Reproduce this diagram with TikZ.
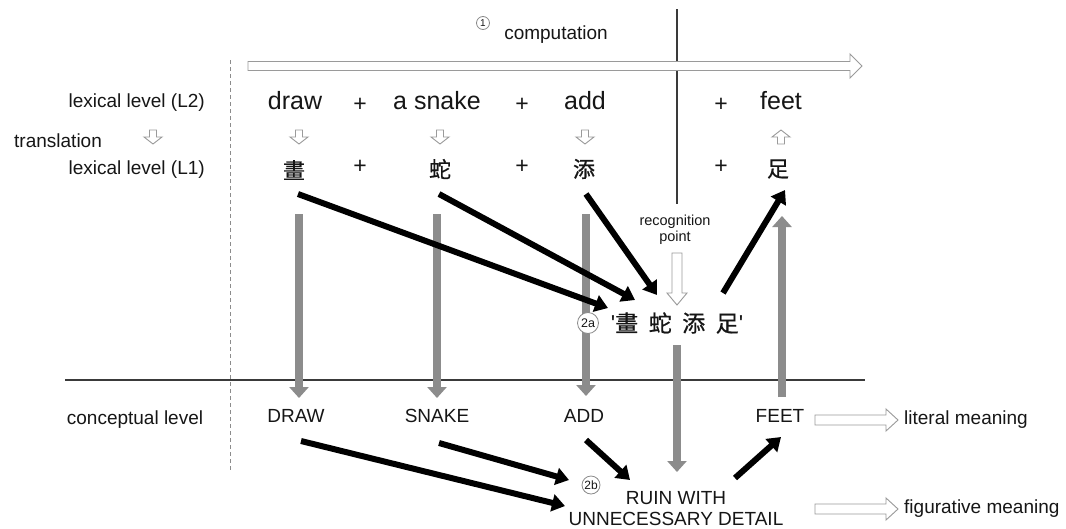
\documentclass[tikz,border=0pt]{standalone}
\usepackage{fontspec}
\setmainfont{Liberation Sans}
\newfontfamily\cjk[FakeBold=0.7]{Noto Sans CJK TC}
\usetikzlibrary{arrows.meta}
\definecolor{txt}{HTML}{161616}
\definecolor{garr}{HTML}{8C8C8C}
\definecolor{hgray}{HTML}{9A9A9A}
\definecolor{cgray}{HTML}{8A8A8A}
\definecolor{lgray}{HTML}{3A3A3A}
\tikzset{
  pics/harrow/.style n args={4}{code={
    \path[hollow] (0,-#2) -- (#1-#4,-#2) -- (#1-#4,-#3) -- (#1,0) -- (#1-#4,#3) -- (#1-#4,#2) -- (0,#2) -- cycle;}},
}
\begin{document}
\begin{tikzpicture}[x=1pt,y=-1pt,
  lbl/.style={font=\fontsize{19}{22}\selectfont, text=txt, inner sep=0pt},
  word/.style={font=\fontsize{25}{28}\selectfont, text=txt, inner sep=0pt},
  plus/.style={font=\fontsize{23}{26}\selectfont, text=txt, inner sep=0pt},
  han/.style={font=\cjk\fontsize{22}{24}\selectfont, text=txt, inner sep=0pt},
  small/.style={font=\fontsize{14.5}{17}\selectfont, text=txt, inner sep=0pt, align=center},
  grayarr/.style={draw=garr, line width=7.5pt, -{Triangle[width=19pt,length=11pt]}},
  blkarr/.style={draw=black, line width=6pt, -{Triangle[width=17pt,length=13pt]}},
  hollow/.style={draw=hgray, fill=white, line width=0.9pt, line join=miter},
  num/.style={circle, draw=cgray, fill=white, line width=0.8pt, inner sep=0pt, text=txt}
]
\useasboundingbox[fill=white] (0,0) rectangle (1066,528);

% frame lines
\draw[lgray, line width=1.4pt] (677,9) coordinate (vt) -- (677,204) coordinate (vb);
\draw[garr, line width=1pt, dash pattern=on 4pt off 3pt] (230,60) coordinate (dt) -- (230,470) coordinate (db);
\draw[lgray, line width=1.3pt] (65,380) coordinate (hl) -- (865,380) coordinate (hr);

% gray arrows (lexical -> conceptual)
\coordinate (g1t) at (299,214); \coordinate (g1b) at (299,398);
\coordinate (g2t) at (437,214); \coordinate (g2b) at (437,398);
\coordinate (g3t) at (586,214); \coordinate (g3b) at (586,396);
\coordinate (g4t) at (677,345); \coordinate (g4b) at (677,472);
\coordinate (g5b) at (782,397); \coordinate (g5t) at (782,216);
\draw[grayarr] (g1t) -- (g1b);
\draw[grayarr] (g2t) -- (g2b);
\draw[grayarr] (g3t) -- (g3b);
\draw[grayarr] (g4t) -- (g4b);
\draw[grayarr] (g5b) -- (g5t);

% computation
\node[num, minimum size=13pt, font=\fontsize{10}{10}\selectfont] (c1) at (483,23) {1};
\node[lbl] (comp) at (556,35) {computation};
\pic at (248,66) {harrow={614}{4.5}{12}{12}};

% left labels
\node[lbl, anchor=east] (l2) at (205,103) {lexical level (L2)};
\node[lbl, anchor=west] (tr) at (14,141) {translation};
\pic[rotate=-90] at (153,130) {harrow={14}{3.5}{9}{7}};
\node[lbl, anchor=east] (l1) at (205,170) {lexical level (L1)};
\node[lbl] (cl) at (135,420) {conceptual level};

% L2 words
\node[word] (draw) at (295,101) {draw};
\node[plus] (p1) at (360,105) {+};
\node[word] (snake) at (437,101) {a snake};
\node[plus] (p2) at (522,105) {+};
\node[word] (add) at (585,101) {add};
\node[plus] (p3) at (721,105) {+};
\node[word] (feet) at (781,101) {feet};

% translation arrows
\pic[rotate=-90] at (299,130) {harrow={14}{3.5}{9}{7}};
\pic[rotate=-90] at (440,130) {harrow={14}{3.5}{9}{7}};
\pic[rotate=-90] at (585,130) {harrow={14}{3.5}{9}{7}};
\pic[rotate=90] at (781,144) {harrow={14}{3.5}{9}{7}};

% L1 characters
\node[han] (hz) at (294,170) {畫};
\node[plus] (q1) at (360,167) {+};
\node[han] (she) at (440,169) {蛇};
\node[plus] (q2) at (522,167) {+};
\node[han] (tian) at (584,169) {添};
\node[plus] (q3) at (721,167) {+};
\node[han] (zu) at (778,169) {足};

% recognition point
\node[small] (rp) at (675,229.5) {recognition\\[-1pt]point};
\pic[rotate=-90] at (677,253) {harrow={52}{5}{10}{12}};

% idiom
\node[num, minimum size=21pt, font=\fontsize{12.5}{12.5}\selectfont] (c2a) at (588,323) {2a};
\node[inner sep=0pt, text=txt, font=\fontsize{23}{26}\selectfont] (idiom) at (677,323)
  {\textquotesingle{\cjk 畫\hspace{10.5pt}蛇\hspace{10.5pt}添\hspace{10.5pt}足}\textquotesingle};

% conceptual level
\node[lbl] (DRAW) at (296,416) {DRAW};
\node[lbl] (SNAKE) at (437,416) {SNAKE};
\node[lbl] (ADD) at (584,416) {ADD};
\node[lbl] (FEET) at (780,416) {FEET};
\node[num, minimum size=18pt, font=\fontsize{12}{12}\selectfont] (c2b) at (591,485) {2b};
\node[lbl, align=center] (ruin) at (676,508.5) {RUIN WITH\\[-1.5pt]UNNECESSARY DETAIL};

% meanings
\pic at (815,420) {harrow={83}{5}{11}{12}};
\node[lbl, anchor=west] (lit) at (904,420) {literal meaning};
\pic at (815,509) {harrow={83}{5}{11}{12}};
\node[lbl, anchor=west] (fig) at (904,509) {figurative meaning};

% black arrows, lexical level
\coordinate (b1s) at (298,194); \coordinate (b1e) at (608,308);
\coordinate (b2s) at (439,194); \coordinate (b2e) at (635,300);
\coordinate (b3s) at (586,194); \coordinate (b3e) at (657,295);
\coordinate (b4s) at (723,293); \coordinate (b4e) at (785,190);
\draw[blkarr] (b1s) -- (b1e);
\draw[blkarr] (b2s) -- (b2e);
\draw[blkarr] (b3s) -- (b3e);
\draw[blkarr] (b4s) -- (b4e);

% black arrows, conceptual level
\coordinate (c1s) at (301,441); \coordinate (c1e) at (565,506);
\coordinate (c2s) at (439,443); \coordinate (c2e) at (569,480);
\coordinate (c3s) at (586,440); \coordinate (c3e) at (630,480);
\coordinate (c4s) at (735,478); \coordinate (c4e) at (781,437);
\draw[blkarr] (c1s) -- (c1e);
\draw[blkarr] (c2s) -- (c2e);
\draw[blkarr] (c3s) -- (c3e);
\draw[blkarr] (c4s) -- (c4e);
\end{tikzpicture}
\end{document}
